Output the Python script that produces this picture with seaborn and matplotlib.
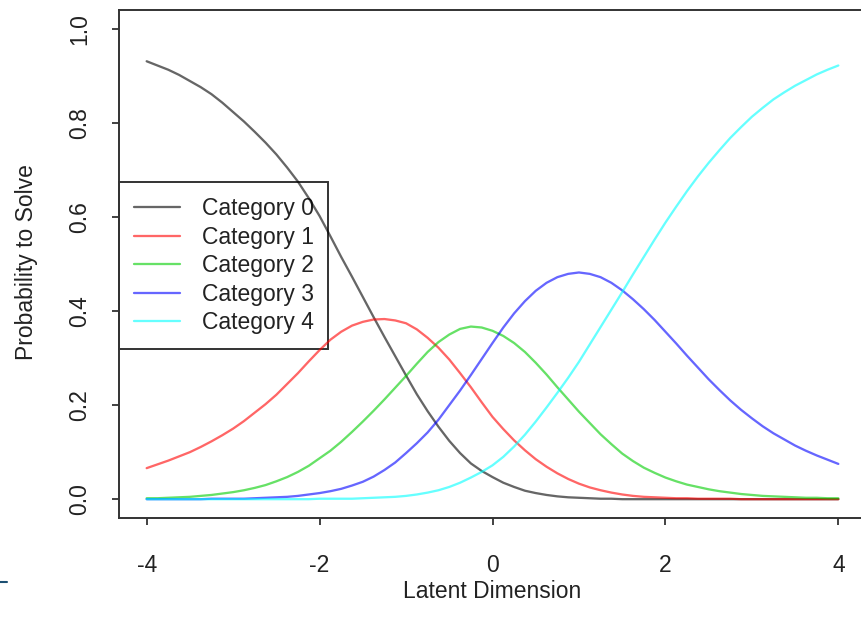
import matplotlib
matplotlib.use("Agg")
import matplotlib.pyplot as plt
from matplotlib.lines import Line2D
import pandas as pd
import seaborn as sns

# Latent trait grid (step 0.125) and category response probabilities
theta = [-4.0, -3.875, -3.75, -3.625, -3.5, -3.375, -3.25, -3.125,
         -3.0, -2.875, -2.75, -2.625, -2.5, -2.375, -2.25, -2.125,
         -2.0, -1.875, -1.75, -1.625, -1.5, -1.375, -1.25, -1.125,
         -1.0, -0.875, -0.75, -0.625, -0.5, -0.375, -0.25, -0.125,
         0.0, 0.125, 0.25, 0.375, 0.5, 0.625, 0.75, 0.875,
         1.0, 1.125, 1.25, 1.375, 1.5, 1.625, 1.75, 1.875,
         2.0, 2.125, 2.25, 2.375, 2.5, 2.625, 2.75, 2.875,
         3.0, 3.125, 3.25, 3.375, 3.5, 3.625, 3.75, 3.875,
         4.0]

cat0 = [0.931, 0.922, 0.913, 0.902, 0.889, 0.876, 0.861, 0.843,
        0.823, 0.803, 0.781, 0.758, 0.733, 0.705, 0.675, 0.640,
        0.602, 0.559, 0.515, 0.473, 0.430, 0.387, 0.345, 0.304,
        0.263, 0.223, 0.187, 0.154, 0.124, 0.098, 0.076, 0.060,
        0.047, 0.035, 0.026, 0.018, 0.013, 0.009, 0.006, 0.004,
        0.003, 0.002, 0.001, 0.001, 0.000, 0.000, 0.000, 0.000,
        0.000, 0.000, 0.000, 0.000, 0.000, 0.000, 0.000, 0.000,
        0.000, 0.000, 0.000, 0.000, 0.000, 0.000, 0.000, 0.000,
        0.000]
cat1 = [0.066, 0.074, 0.082, 0.091, 0.100, 0.111, 0.123, 0.136,
        0.150, 0.166, 0.184, 0.202, 0.222, 0.245, 0.268, 0.293,
        0.317, 0.339, 0.356, 0.369, 0.377, 0.382, 0.383, 0.380,
        0.374, 0.361, 0.343, 0.322, 0.297, 0.268, 0.238, 0.206,
        0.175, 0.149, 0.125, 0.104, 0.085, 0.069, 0.055, 0.043,
        0.033, 0.025, 0.019, 0.014, 0.010, 0.007, 0.005, 0.004,
        0.003, 0.002, 0.002, 0.001, 0.001, 0.001, 0.001, 0.000,
        0.000, 0.000, 0.000, 0.000, 0.000, 0.000, 0.000, 0.000,
        0.000]
cat2 = [0.002, 0.002, 0.003, 0.004, 0.005, 0.007, 0.009, 0.012,
        0.015, 0.019, 0.024, 0.030, 0.038, 0.047, 0.058, 0.071,
        0.087, 0.103, 0.122, 0.143, 0.165, 0.188, 0.212, 0.237,
        0.262, 0.288, 0.313, 0.334, 0.350, 0.362, 0.367, 0.365,
        0.358, 0.347, 0.332, 0.313, 0.290, 0.265, 0.238, 0.212,
        0.186, 0.162, 0.138, 0.117, 0.097, 0.081, 0.067, 0.056,
        0.046, 0.038, 0.031, 0.026, 0.021, 0.017, 0.014, 0.011,
        0.009, 0.007, 0.006, 0.005, 0.004, 0.003, 0.003, 0.002,
        0.002]
cat3 = [0.000, 0.000, 0.000, 0.000, 0.000, 0.000, 0.001, 0.001,
        0.001, 0.001, 0.002, 0.003, 0.004, 0.005, 0.007, 0.010,
        0.013, 0.017, 0.022, 0.029, 0.037, 0.048, 0.062, 0.078,
        0.098, 0.119, 0.142, 0.169, 0.200, 0.231, 0.264, 0.298,
        0.332, 0.365, 0.395, 0.421, 0.443, 0.460, 0.472, 0.479,
        0.482, 0.479, 0.472, 0.460, 0.444, 0.425, 0.404, 0.381,
        0.356, 0.331, 0.305, 0.280, 0.255, 0.232, 0.210, 0.190,
        0.172, 0.155, 0.140, 0.127, 0.114, 0.103, 0.093, 0.084,
        0.075]
cat4 = [0.000, 0.000, 0.000, 0.000, 0.000, 0.000, 0.000, 0.000,
        0.000, 0.000, 0.000, 0.000, 0.000, 0.000, 0.000, 0.000,
        0.001, 0.001, 0.001, 0.001, 0.002, 0.003, 0.004, 0.005,
        0.007, 0.010, 0.014, 0.019, 0.026, 0.035, 0.046, 0.058,
        0.072, 0.090, 0.112, 0.137, 0.165, 0.195, 0.226, 0.258,
        0.292, 0.329, 0.366, 0.403, 0.440, 0.478, 0.515, 0.552,
        0.588, 0.622, 0.655, 0.686, 0.715, 0.742, 0.768, 0.791,
        0.813, 0.832, 0.850, 0.865, 0.879, 0.891, 0.903, 0.913,
        0.922]

categories = ["Category 0", "Category 1", "Category 2", "Category 3", "Category 4"]
colors = ["#000000", "#FF0000", "#00CD00", "#0000FF", "#00FFFF"]

x_ticks = [-4, -2, 0, 2, 4]
y_ticks = [0.0, 0.2, 0.4, 0.6, 0.8, 1.0]

frames = []
for name, vals in zip(categories, [cat0, cat1, cat2, cat3, cat4]):
    frames.append(pd.DataFrame({"theta": theta, "prob": vals, "category": name}))
df = pd.concat(frames, ignore_index=True)

sns.set_style("ticks")
plt.rcParams["font.family"] = ["Liberation Sans", "DejaVu Sans"]

W, H = 861, 631
fig = plt.figure(figsize=(W / 100, H / 100), dpi=100)
# plotting region (right edge runs slightly past the canvas)
ax = fig.add_axes([119 / W, (H - 518) / H, (866 - 119) / W, 508 / H])

lw = 1.65
sns.lineplot(data=df, x="theta", y="prob", hue="category", hue_order=categories,
             palette=colors, linewidth=lw, alpha=0.6, legend=False, ax=ax)

ax.set_xlim(-4.32, 4.32)
ax.set_ylim(-0.04, 1.04)
ax.set_xticks(x_ticks)
ax.set_xticklabels([str(v) for v in x_ticks])
ax.set_yticks(y_ticks)
ax.set_yticklabels([f"{v:.1f}" for v in y_ticks])

text_color = "#222222"
fs = 16.5
ax.tick_params(axis="both", direction="out", length=5.2, width=1.3,
               color="#333333", labelsize=fs, labelcolor=text_color)
ax.tick_params(axis="x", pad=21)
ax.tick_params(axis="y", pad=15)
for lab in ax.get_yticklabels():
    lab.set_rotation(90)
    lab.set_verticalalignment("center")

for side in ["left", "right", "top", "bottom"]:
    ax.spines[side].set_visible(True)
    ax.spines[side].set_color("#333333")
    ax.spines[side].set_linewidth(1.4)

ax.set_xlabel("")
ax.set_ylabel("")
fig.text(492 / W, 1 - 592 / H, "Latent Dimension", ha="center", va="center",
         fontsize=fs, color=text_color)
fig.text(27 / W, 1 - 262 / H, "Probability to Solve", ha="center", va="center",
         rotation=90, fontsize=fs, color=text_color)

handles = [Line2D([], [], color=c, alpha=0.6, linewidth=lw) for c in colors]
leg = ax.legend(handles, categories, loc="center left", bbox_to_anchor=(0.0, 0.497),
                borderaxespad=0.0, frameon=True, fancybox=False, fontsize=fs,
                handlelength=2.0, handletextpad=0.95, labelspacing=0.24,
                borderpad=0.65, framealpha=1.0)
leg.get_frame().set_edgecolor("#333333")
leg.get_frame().set_linewidth(1.4)
leg.get_frame().set_facecolor("white")
for t in leg.get_texts():
    t.set_color(text_color)
leg.set_zorder(1)

# small dark mark at the left border of the canvas
fig.add_artist(Line2D([0, 7 / W], [1 - 582 / H, 1 - 582 / H], transform=fig.transFigure,
                      color="#1b4f72", linewidth=1.5))

fig.savefig("out.png", dpi=100, facecolor="white")
